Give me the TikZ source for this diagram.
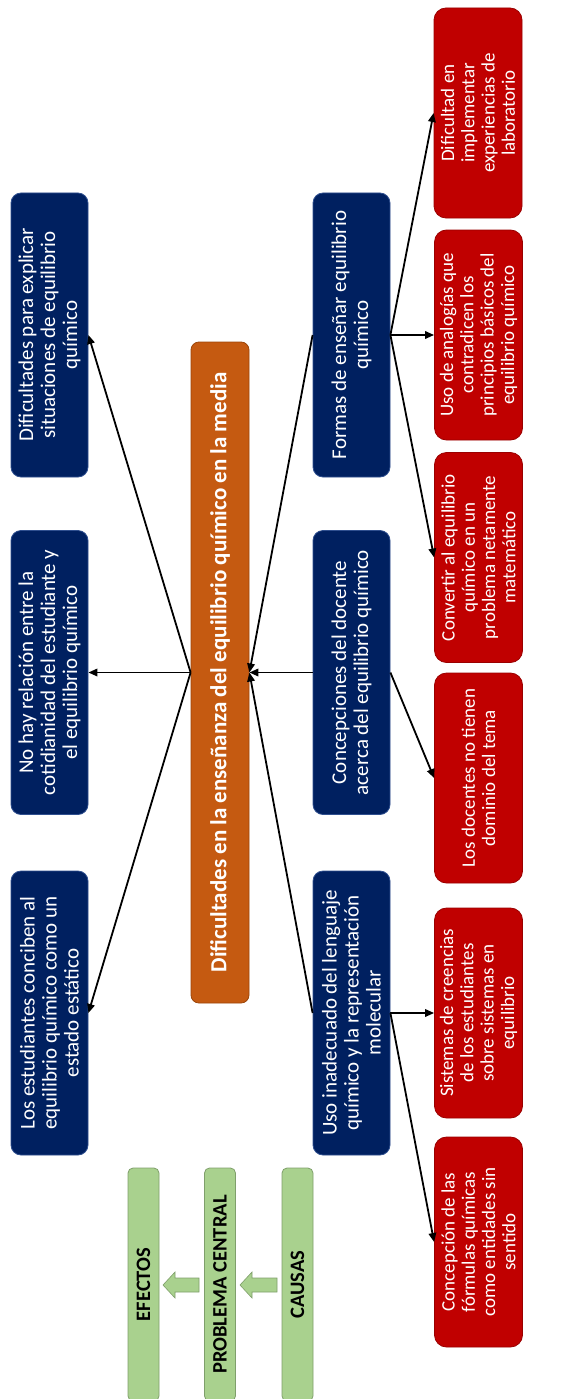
\documentclass[tikz,border=0pt]{standalone}
\usepackage{fontspec}
\setmainfont{Carlito}
\usetikzlibrary{arrows.meta}
\definecolor{navybox}{HTML}{002060}
\definecolor{navyedge}{HTML}{2F4F8F}
\definecolor{redbox}{HTML}{C00000}
\definecolor{rededge}{HTML}{9A0000}
\definecolor{orangebox}{HTML}{C55A11}
\definecolor{orangeedge}{HTML}{9C4509}
\definecolor{greenbox}{HTML}{A9D18E}
\definecolor{greenedge}{HTML}{7F9F6B}
\tikzset{
  bluebox/.style={rotate=90, fill=navybox, draw=navyedge, line width=0.8pt, rounded corners=10pt,
    minimum width=284pt, minimum height=77pt, inner sep=0pt, text=white, align=center,
    font=\fontsize{21}{22}\selectfont},
  redbox/.style={rotate=90, fill=redbox, draw=rededge, line width=0.8pt, rounded corners=12pt,
    minimum width=210pt, minimum height=88pt, inner sep=0pt, text=white, align=center,
    font=\fontsize{19}{20.3}\selectfont},
  centralbox/.style={rotate=90, fill=orangebox, draw=orangeedge, line width=0.8pt, rounded corners=8pt,
    minimum width=661pt, minimum height=58pt, inner sep=0pt, text=white, align=center,
    font=\bfseries\fontsize{23}{24}\selectfont},
  legendbox/.style={rotate=90, fill=greenbox, draw=greenedge, line width=0.8pt, rounded corners=5pt,
    minimum width=233pt, minimum height=31pt, inner sep=0pt, text=black, align=center,
    font=\bfseries\fontsize{20.5}{22}\selectfont},
  conn/.style={line width=1.8pt, draw=black, -{Triangle[length=9pt,width=7.5pt]}},
  blockarrow/.style={fill=greenbox, draw=greenedge, line width=0.6pt},
}
\begin{document}
\begin{tikzpicture}[x=1pt,y=-1pt]
\useasboundingbox (0,0) rectangle (579,1399);
% effects
\node[bluebox] (e3) at (49.5,335) {Dificultades para explicar\\situaciones de equilibrio\\químico};
\node[bluebox] (e2) at (49.5,672.5) {No hay relación entre la\\cotidianidad del estudiante y\\el equilibrio químico};
\node[bluebox] (e1) at (49.5,1013) {Los estudiantes conciben al\\equilibrio químico como un\\estado estático};
% central
\node[centralbox] (cp) at (220,672.5) {Dificultades en la enseñanza del equilibrio químico en la media};
% causes
\node[bluebox] (c3) at (351.5,335) {Formas de enseñar equilibrio\\químico};
\node[bluebox] (c2) at (351.5,672.5) {Concepciones del docente\\acerca del equilibrio químico};
\node[bluebox] (c1) at (351.5,1013) {Uso inadecuado del lenguaje\\químico y la representación\\molecular};
% sub-causes
\node[redbox] (r6) at (478,113) {Dificultad en\\implementar\\experiencias de\\laboratorio};
\node[redbox] (r5) at (478.5,335) {Uso de analogías que\\contradicen los\\principios básicos del\\equilibrio químico};
\node[redbox] (r4) at (478.5,557.5) {Convertir al equilibrio\\químico en un\\problema netamente\\matemático};
\node[redbox] (r3) at (478.5,778) {Los docentes no tienen\\dominio del tema};
\node[redbox] (r2) at (478.5,1013) {Sistemas de creencias\\de los estudiantes\\sobre sistemas en\\equilibrio};
\node[redbox] (r1) at (478.5,1242) {Concepción de las\\fórmulas químicas\\como entidades sin\\sentido};
% legend
\node[legendbox] (lef) at (143.5,1284.5) {EFECTOS};
\node[legendbox] (lpc) at (220,1284.5) {PROBLEMA CENTRAL};
\node[legendbox] (lca) at (297.5,1284.5) {CAUSAS};
\draw[blockarrow] (240,1285) -- (252,1272) -- (252,1278) -- (277,1278) -- (277,1292) -- (252,1292) -- (252,1298) -- cycle;
\draw[blockarrow] (163,1285) -- (175,1272) -- (175,1278) -- (199,1278) -- (199,1292) -- (175,1292) -- (175,1298) -- cycle;
% connectors
\draw[conn] (cp.north) -- (e3.south);
\draw[conn] (cp.north) -- (e2.south);
\draw[conn] (cp.north) -- (e1.south);
\draw[conn] (c3.north) -- (cp.south);
\draw[conn] (c2.north) -- (cp.south);
\draw[conn] (c1.north) -- (cp.south);
\draw[conn] (c3.south) -- (r6.north);
\draw[conn] (c3.south) -- (r5.north);
\draw[conn] (c3.south) -- (r4.north);
\draw[conn] (c2.south) -- (r3.north);
\draw[conn] (c1.south) -- (r2.north);
\draw[conn] (c1.south) -- (r1.north);
\end{tikzpicture}
\end{document}
